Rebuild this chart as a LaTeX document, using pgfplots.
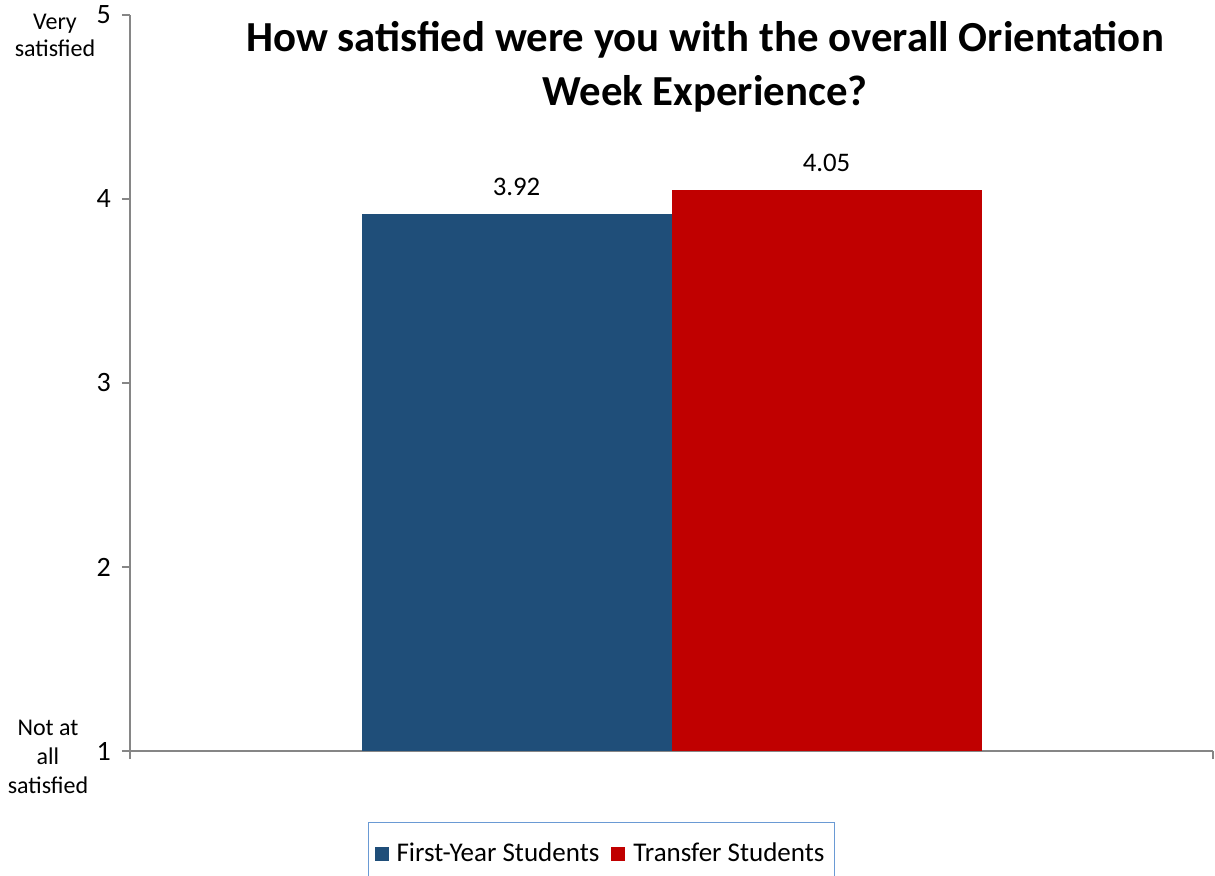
\documentclass[border=0pt]{standalone}
\usepackage{pgfplots}
\pgfplotsset{compat=1.18}
\usepackage{fontspec}
\setmainfont{Carlito}
\definecolor{fyblue}{HTML}{1F4E79}
\definecolor{trred}{HTML}{C00000}
\definecolor{axgray}{HTML}{868686}
\definecolor{legblue}{HTML}{6A9AD4}
\begin{document}
\begin{tikzpicture}[x=1pt,y=1pt]
\useasboundingbox (0,0) rectangle (607.5,437.5);
\begin{axis}[
  at={(65pt,62pt)}, anchor=south west,
  scale only axis, width=541.5pt, height=368pt,
  xmin=-0.5, xmax=0.5, ymin=1, ymax=5,
  axis lines=left, axis line style={draw=axgray, line width=0.6pt, -},
  ybar=0pt, bar width=155pt,
  xtick={-0.5,0.5}, xticklabels={},
  ytick={1,2,3,4,5},
  tick align=outside, major tick length=4pt,
  tick style={draw=axgray, line width=0.6pt},
  yticklabel style={font=\fontsize{14}{16}\selectfont, xshift=-2pt},
  /pgf/number format/assume math mode=true,
  nodes near coords,
  nodes near coords style={font=\fontsize{13.4}{15}\selectfont, anchor=base, inner sep=0pt, yshift=9pt,
    /pgf/number format/.cd, fixed, precision=2, fixed zerofill, assume math mode=true},
  legend columns=2,
  legend style={at={(rel axis cs:0.4354,-0.0965)}, anchor=north, draw=legblue, line width=0.6pt,
    font=\fontsize{13.5}{15}\selectfont, inner xsep=3pt, inner ysep=8pt,
    /tikz/every odd column/.append style={column sep=2pt},
    /tikz/every even column/.append style={column sep=4pt}},
  legend image code/.code={\fill[#1] (0pt,-3.5pt) rectangle (7pt,3.5pt);},
]
\addplot[fill=fyblue, draw=none] coordinates {(0,3.92)};
\addplot[fill=trred, draw=none] coordinates {(0,4.05)};
\legend{First-Year Students, Transfer Students}
\end{axis}
\node[align=center, font=\fontsize{12}{13.5}\selectfont] at (27.5,420) {Very\\satisfied};
\node[align=center, font=\fontsize{12}{14.5}\selectfont] at (24,59) {Not at\\all\\satisfied};
\node[align=center, font=\bfseries\fontsize{21.4}{27}\selectfont] at (352.5,404) {How satisfied were you with the overall Orientation\\Week Experience?};
\end{tikzpicture}
\end{document}
